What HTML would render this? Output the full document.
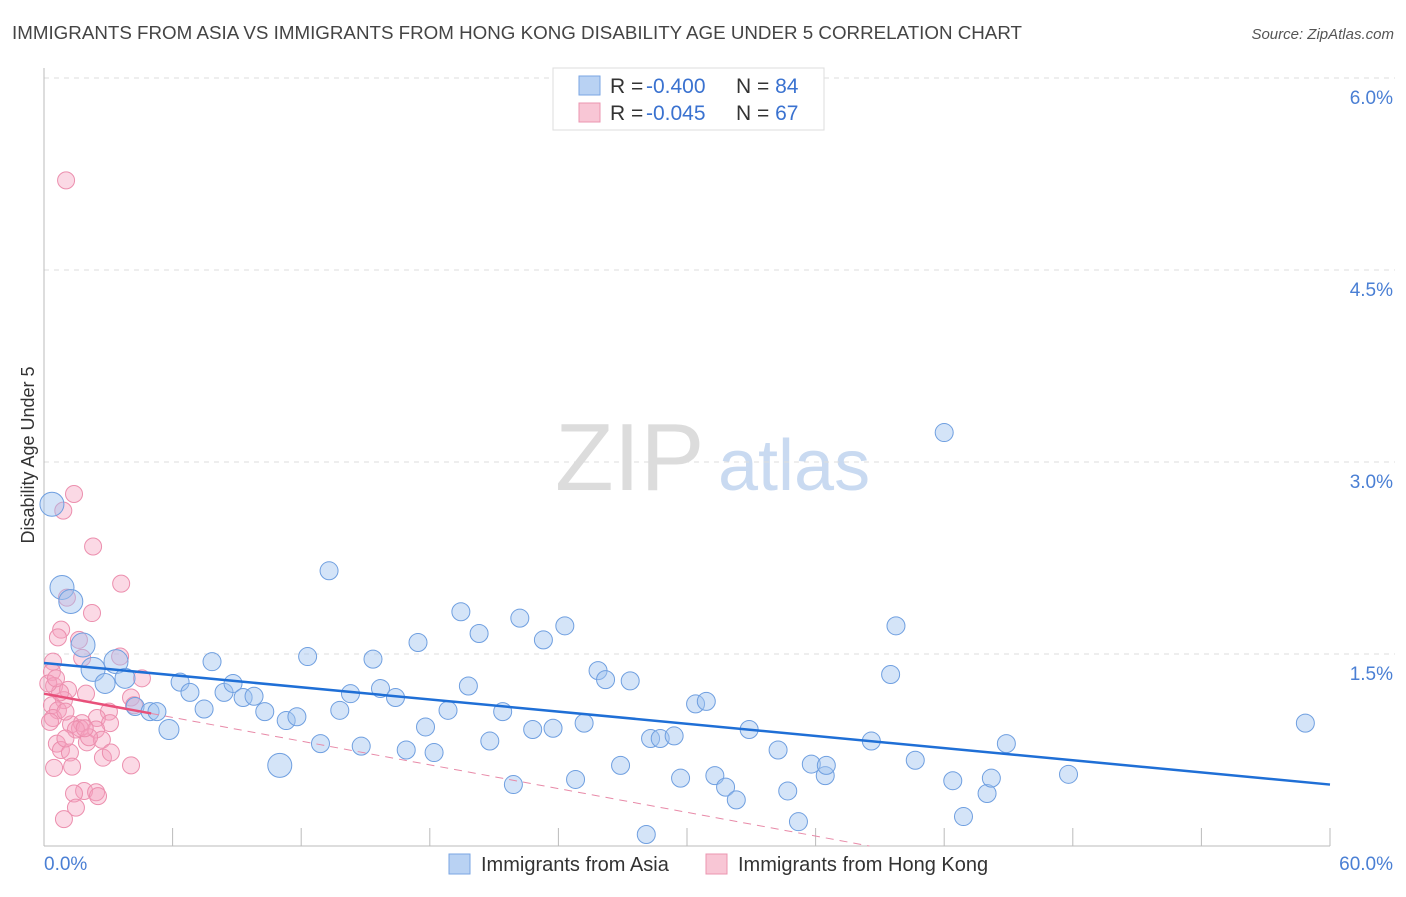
<!DOCTYPE html>
<html><head><meta charset="utf-8"><style>
body{margin:0;background:#fff;font-family:"Liberation Sans",sans-serif}
svg text{font-family:"Liberation Sans",sans-serif}
</style></head><body>
<svg id="chart" width="1406" height="892" xmlns="http://www.w3.org/2000/svg">
<text x="12" y="39" font-size="18" fill="#444" textLength="1010" lengthAdjust="spacingAndGlyphs">IMMIGRANTS FROM ASIA VS IMMIGRANTS FROM HONG KONG DISABILITY AGE UNDER 5 CORRELATION CHART</text>
<text x="1394" y="39" font-size="15" font-style="italic" fill="#555" text-anchor="end">Source: ZipAtlas.com</text>
<text transform="translate(34,455) rotate(-90)" font-size="18" fill="#333" text-anchor="middle">Disability Age Under 5</text>
<g>
<text x="555" y="490" font-family="Liberation Serif" font-size="96" fill="#dcdcdc">ZIP</text>
<text x="718" y="490" font-size="72" fill="#c9daf1">atlas</text>
</g>
<g id="grid"></g><g id="axes"></g><g id="pts"></g><g id="lines"></g>
<g>
<rect x="553" y="68" width="271" height="62" fill="#fff" stroke="#ddd"/>
<rect x="579" y="76" width="21" height="19" fill="#b9d2f3" stroke="#7aa6e3"/>
<rect x="579" y="103" width="21" height="19" fill="#f8c6d5" stroke="#eb95b0"/>
<text x="610" y="93" font-size="21" fill="#333">R = <tspan x="646" fill="#3a72d0">-0.400</tspan><tspan x="736">N = </tspan><tspan fill="#3a72d0">84</tspan></text>
<text x="610" y="120" font-size="21" fill="#333">R = <tspan x="646" fill="#3a72d0">-0.045</tspan><tspan x="736">N = </tspan><tspan fill="#3a72d0">67</tspan></text>
</g>
<g>
<rect x="449" y="854" width="21" height="20" fill="#b9d2f3" stroke="#7aa6e3"/>
<text x="481" y="871" font-size="20" fill="#333">Immigrants from Asia</text>
<rect x="706" y="854" width="21" height="20" fill="#f8c6d5" stroke="#eb95b0"/>
<text x="738" y="871" font-size="20" fill="#333">Immigrants from Hong Kong</text>
</g>
</svg>
<script>
const yTicks=[1.5,3.0,4.5,6.0];
const yTickLabels=["1.5%","3.0%","4.5%","6.0%"];
const xTickLabels=["0.0%","60.0%"];
const asiaX=[0.37,0.84,1.25,1.82,2.29,3.36,2.85,3.78,4.25,4.95,5.27,5.83,6.35,6.81,7.47,7.84,8.4,8.82,9.29,9.8,10.3,11.0,11.3,11.8,12.3,12.9,13.3,13.8,14.3,14.8,15.35,15.7,16.4,16.9,17.45,17.8,18.2,18.85,19.45,19.8,20.3,20.8,21.4,21.9,22.2,22.8,23.3,23.75,24.3,24.8,25.2,25.85,26.2,26.9,27.35,28.1,28.3,28.75,29.4,29.7,30.4,30.9,31.3,31.8,32.3,32.9,34.25,34.7,35.2,35.8,36.45,36.5,38.6,39.5,39.75,40.65,42.0,42.4,42.9,44.0,44.2,44.9,47.8,58.85];
const asiaY=[2.67,2.02,1.91,1.57,1.38,1.44,1.27,1.31,1.09,1.05,1.05,0.91,1.28,1.2,1.07,1.44,1.2,1.27,1.16,1.17,1.05,0.63,0.98,1.01,1.48,0.8,2.15,1.06,1.19,0.78,1.46,1.23,1.16,0.75,1.59,0.93,0.73,1.06,1.83,1.25,1.66,0.82,1.05,0.48,1.78,0.91,1.61,0.92,1.72,0.52,0.96,1.37,1.3,0.63,1.29,0.09,0.84,0.84,0.86,0.53,1.11,1.13,0.55,0.46,0.36,0.91,0.75,0.43,0.19,0.64,0.55,0.63,0.82,1.34,1.72,0.67,3.23,0.51,0.23,0.41,0.53,0.8,0.56,0.96];
const asiaSize=[12,12,12,12,12,12,10,10,9,9,9,10,9,9,9,9,9,9,9,9,9,12,9,9,9,9,9,9,9,9,9,9,9,9,9,9,9,9,9,9,9,9,9,9,9,9,9,9,9,9,9,9,9,9,9,9,9,9,9,9,9,9,9,9,9,9,9,9,9,9,9,9,9,9,9,9,9,9,9,9,9,9,9,9];
const hkX=[1.03,1.4,0.9,2.29,3.6,1.07,2.24,0.8,0.65,1.63,1.78,3.55,0.42,0.37,4.57,0.47,1.12,1.96,4.06,0.93,0.37,0.65,3.03,4.2,2.47,0.42,1.26,1.77,1.68,3.08,1.49,2.43,0.6,2.0,2.7,0.79,1.21,2.75,4.06,0.47,1.31,1.87,2.43,2.52,1.4,1.49,0.93,0.28,0.75,0.2,1.0,2.1,1.9,1.0,0.56,3.12];
const hkY=[5.2,2.75,2.62,2.34,2.05,1.94,1.82,1.69,1.63,1.61,1.47,1.48,1.44,1.36,1.31,1.25,1.22,1.19,1.16,1.14,1.1,1.06,1.05,1.1,1.0,1.0,0.95,0.96,0.92,0.96,0.91,0.91,0.8,0.81,0.83,0.75,0.73,0.69,0.63,0.61,0.62,0.43,0.42,0.39,0.41,0.3,0.21,0.97,1.2,1.27,0.84,0.85,0.92,1.05,1.31,0.73];
const asiaTrend=[1.43,0.48];
const hkTrend=[1.19,-0.0309];
const NS="http://www.w3.org/2000/svg";
const X0=44,X1=1330,xMax=60,Y0=846,yPer=128;
const sx=v=>X0+v/xMax*(X1-X0), sy=v=>Y0-v*yPer;
function mk(t,a,p){const e=document.createElementNS(NS,t);for(const k in a)e.setAttribute(k,a[k]);document.getElementById(p).appendChild(e);return e;}
yTicks.forEach((v,i)=>{
 const l=mk('line',{x1:44,x2:1395,y1:sy(v),y2:sy(v),stroke:'#ddd','stroke-dasharray':'5,5'},'grid');
 
 
 const t=mk('text',{x:1393,y:sy(v)+26,'font-size':19,fill:'#4a7fd4','text-anchor':'end'},'grid');
 t.textContent=yTickLabels[i];
 
 
});
let a=mk('line',{x1:44,x2:44,y1:68,y2:846,stroke:'#bbb'},'axes');


a=mk('line',{x1:44,x2:1330,y1:846,y2:846,stroke:'#bbb'},'axes');


for(let i=1;i<=10;i++){const t=mk('line',{x1:sx(i*6),x2:sx(i*6),y1:828,y2:846,stroke:'#bbb'},'axes');
 
 }
let xl=mk('text',{x:44,y:870,'font-size':19,fill:'#4a7fd4'},'axes');xl.textContent=xTickLabels[0];


xl=mk('text',{x:1393,y:870,'font-size':19,fill:'#4a7fd4','text-anchor':'end'},'axes');xl.textContent=xTickLabels[1];


hkX.forEach((v,i)=>{const c=mk('circle',{cx:sx(v),cy:sy(hkY[i]),r:8.5,fill:'rgba(245,160,190,0.4)',stroke:'#ec8fae','stroke-width':1},'pts');
 
 });
asiaX.forEach((v,i)=>{const c=mk('circle',{cx:sx(v),cy:sy(asiaY[i]),r:asiaSize[i],fill:'rgba(160,196,240,0.45)',stroke:'#6f9fe0','stroke-width':1},'pts');
 
 });
let ln=mk('line',{x1:sx(0),y1:sy(asiaTrend[0]),x2:sx(60),y2:sy(asiaTrend[1]),stroke:'#1f6fd6','stroke-width':2.5},'lines');


const hy=x=>hkTrend[0]+hkTrend[1]*x, xz=-hkTrend[0]/hkTrend[1];
ln=mk('line',{x1:sx(5),y1:sy(hy(5)),x2:sx(xz),y2:sy(0),stroke:'#e88aa8','stroke-width':1,'stroke-dasharray':'8,6'},'lines');


ln=mk('line',{x1:sx(0),y1:sy(hy(0)),x2:sx(5),y2:sy(hy(5)),stroke:'#e8507a','stroke-width':2.5},'lines');


</script>
</body></html>
